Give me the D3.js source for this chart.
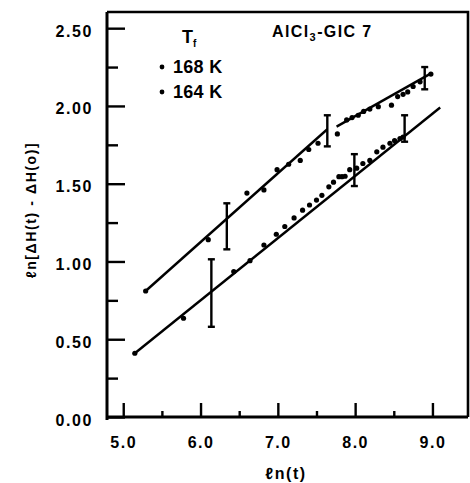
<!DOCTYPE html>
<html><head><meta charset="utf-8">
<script src="https://cdn.jsdelivr.net/npm/d3@7"></script>
<style>
html,body{margin:0;padding:0;background:#fff;}
svg text{font-family:"Liberation Sans",Arial,sans-serif;font-weight:bold;fill:#000;}
</style></head>
<body><svg id="c" width="470" height="483"></svg>
<script>
// ---- data ----
const xTicksMajor = [5, 6, 7, 8, 9];
const xTicksMinor = [5.5, 6.5, 7.5, 8.5];
const yTicksMajor = [0, 0.5, 1.0, 1.5, 2.0, 2.5];
const yTicksMinor = [0.25, 0.75, 1.25, 1.75, 2.25];
const seriesNames = ["168 K", "164 K"];

// 168 K
const x168 = [5.29, 6.10, 6.60, 6.82, 6.99, 7.14, 7.29, 7.40, 7.52, 7.77, 7.89, 7.96, 8.04, 8.11, 8.19, 8.30, 8.47, 8.55, 8.62, 8.68, 8.75, 8.84, 8.98];
const y168 = [0.81, 1.14, 1.44, 1.46, 1.59, 1.625, 1.65, 1.72, 1.76, 1.82, 1.91, 1.925, 1.94, 1.965, 1.98, 1.995, 2.005, 2.06, 2.075, 2.09, 2.125, 2.155, 2.205];
const err168x = [6.34, 7.64, 8.90];
const err168lo = [1.078, 1.74, 2.107];
const err168hi = [1.374, 1.94, 2.25];
const fit168a = [[5.29, 0.81], [7.64, 1.85]];
const fit168b = [[7.76, 1.867], [8.97, 2.206]];

// 164 K
const x164 = [5.15, 5.78, 6.43, 6.64, 6.82, 6.98, 7.09, 7.21, 7.32, 7.41, 7.50, 7.57, 7.66, 7.72, 7.79, 7.83, 7.87, 7.93, 8.02, 8.10, 8.19, 8.28, 8.36, 8.45, 8.51, 8.58, 8.62];
const y164 = [0.41, 0.635, 0.935, 1.005, 1.106, 1.175, 1.225, 1.28, 1.33, 1.363, 1.395, 1.425, 1.48, 1.51, 1.545, 1.545, 1.548, 1.59, 1.60, 1.63, 1.65, 1.705, 1.735, 1.76, 1.777, 1.79, 1.80];
const err164x = [6.14, 7.99, 8.64];
const err164lo = [0.58, 1.485, 1.77];
const err164hi = [1.014, 1.69, 1.94];
const fit164 = [[5.15, 0.41], [9.10, 1.99]];

// ---- chart ----
const svg = d3.select("#c");
const L = 107, R = 468, T = 12, B = 417;
const x = d3.scaleLinear().domain([4.79, 9.46]).range([L, R]);
const y = d3.scaleLinear().domain([0, 2.604]).range([B, T]);

// frame (top + right)
svg.append("path")
  .attr("d", `M${L},${T}H${R}V${B}`)
  .attr("fill", "none").attr("stroke", "#000").attr("stroke-width", 2.6);

// y axis major
const gy = svg.append("g").attr("transform", `translate(${L},0)`)
  .call(d3.axisLeft(y).tickValues(yTicksMajor).tickSize(-18).tickPadding(14).tickFormat(d3.format(".2f")));
gy.select(".domain").attr("stroke-width", 3).attr("d", `M0,${T}V${B + 3}`);
gy.selectAll(".tick line").attr("stroke-width", 2.4);
gy.selectAll(".tick text").attr("font-size", 16).attr("letter-spacing", "1.6px")
  .attr("font-family", '"Liberation Sans",Arial,sans-serif').attr("dy", "0.5em");
// y minor
const gy2 = svg.append("g").attr("transform", `translate(${L},0)`)
  .call(d3.axisLeft(y).tickValues(yTicksMinor).tickSize(-11).tickFormat(""));
gy2.select(".domain").remove();
gy2.selectAll(".tick line").attr("stroke-width", 2.4);

// x axis major
const gx = svg.append("g").attr("transform", `translate(0,${B})`)
  .call(d3.axisBottom(x).tickValues(xTicksMajor).tickSize(-14).tickPadding(20).tickFormat(d3.format(".1f")));
gx.select(".domain").attr("stroke-width", 3).attr("d", `M${L},0H${R}`);
gx.selectAll(".tick line").attr("stroke-width", 2.4);
gx.selectAll(".tick text").attr("font-size", 16).attr("letter-spacing", "1.5px")
  .attr("font-family", '"Liberation Sans",Arial,sans-serif');
const gx2 = svg.append("g").attr("transform", `translate(0,${B})`)
  .call(d3.axisBottom(x).tickValues(xTicksMinor).tickSize(-6).tickFormat(""));
gx2.select(".domain").remove();
gx2.selectAll(".tick line").attr("stroke-width", 2.4);

// fit lines
const line = d3.line().x(d => x(d[0])).y(d => y(d[1]));
[fit168a, fit168b, fit164].forEach(f => {
  svg.append("path").attr("d", line(f)).attr("fill", "none")
    .attr("stroke", "#000").attr("stroke-width", 2.4);
});

// error bars
function errBars(xs, lo, hi) {
  xs.forEach((xv, i) => {
    const g = svg.append("g").attr("stroke", "#000").attr("stroke-width", 2.4);
    g.append("line").attr("x1", x(xv)).attr("x2", x(xv)).attr("y1", y(lo[i])).attr("y2", y(hi[i]));
    g.append("line").attr("x1", x(xv) - 3.5).attr("x2", x(xv) + 3.5).attr("y1", y(lo[i])).attr("y2", y(lo[i]));
    g.append("line").attr("x1", x(xv) - 3.5).attr("x2", x(xv) + 3.5).attr("y1", y(hi[i])).attr("y2", y(hi[i]));
  });
}
errBars(err168x, err168lo, err168hi);
errBars(err164x, err164lo, err164hi);

// points
function pts(xs, ys) {
  svg.append("g").selectAll("circle").data(xs.map((v, i) => [v, ys[i]])).join("circle")
    .attr("cx", d => x(d[0])).attr("cy", d => y(d[1])).attr("r", 2.6).attr("fill", "#000");
}
pts(x168, y168);
pts(x164, y164);

// annotations
const t1 = svg.append("text").attr("x", 272).attr("y", 37).attr("font-size", 16).attr("letter-spacing", "1.4px");
t1.append("tspan").text("AlCl");
t1.append("tspan").attr("font-size", 11).attr("dy", 4).text("3");
t1.append("tspan").attr("dy", -4).text("-GIC 7");

const tf = svg.append("text").attr("x", 182).attr("y", 43).attr("font-size", 18);
tf.append("tspan").text("T");
tf.append("tspan").attr("font-size", 10).attr("dy", 4).text("f");

seriesNames.forEach((s, i) => {
  const yy = [67, 92][i];
  svg.append("circle").attr("cx", 162).attr("cy", yy).attr("r", 2.4).attr("fill", "#000");
  svg.append("text").attr("x", 173).attr("y", yy + 6).attr("font-size", 18).attr("letter-spacing", "0.3px").text(s);
});

// axis titles
svg.append("text").attr("x", 286).attr("y", 479).attr("text-anchor", "middle")
  .attr("font-size", 16).attr("letter-spacing", "1.5px").text("ℓn(t)");
svg.append("text").attr("transform", "translate(36,210) rotate(-90)").attr("text-anchor", "middle")
  .attr("font-size", 14).attr("letter-spacing", "1.6px").text("ℓn[ΔH(t) - ΔH(o)]");
</script></body></html>
